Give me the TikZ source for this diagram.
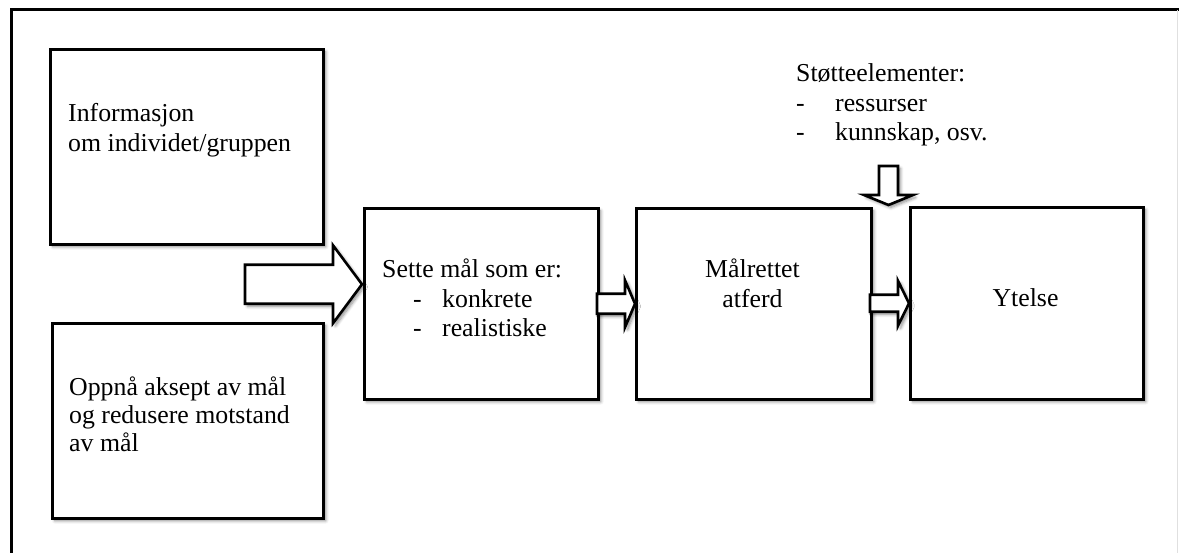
\documentclass[tikz,border=0pt]{standalone}
\usepackage{fontspec}
\setmainfont{Liberation Serif}
\usetikzlibrary{shadows.blur,calc}

% horizontal block arrow: #1 tip, #2 total length, #3 shaft half-width,
% #4 head half-width, #5 head length
\newcommand{\hblockarrow}[5]{%
  \draw[blockarrow] ($(#1)+(-#2,-#3)$) -- ($(#1)+(-#5,-#3)$) -- ($(#1)+(-#5,-#4)$)
    -- (#1) -- ($(#1)+(-#5,#4)$) -- ($(#1)+(-#5,#3)$) -- ($(#1)+(-#2,#3)$) -- cycle;}
\newcommand{\itemdash}[1]{\makebox[#1][l]{-}}

\begin{document}
\begin{tikzpicture}[x=1pt,y=-1pt,
  softshadow/.style={blur shadow={shadow xshift=2.5pt, shadow yshift=-2.5pt,
      shadow blur steps=6, shadow blur radius=3pt, shadow opacity=45}},
  frame/.style={line width=3pt, line join=miter},
  box/.style={draw, line width=2.6pt, fill=white, inner sep=0pt, softshadow},
  blockarrow/.style={draw, line width=2.6pt, fill=white, line join=miter, softshadow},
  % multi-line labels are placed by the baseline of their last line
  txt/.style={anchor=base west, inner sep=0pt, align=left,
      font=\fontsize{25.8}{29.5}\selectfont},
  ctxt/.style={anchor=base, inner sep=0pt, align=center,
      font=\fontsize{25.8}{29.5}\selectfont}]

\useasboundingbox (0,0) rectangle (1179,553);

% outer frame
\draw[frame] (11,556) -- (11,10) -- (1182,10);
\draw[black!12, line width=1.5pt] (1177.5,10) -- (1177.5,556);

% boxes
\node[box, anchor=north west, minimum width=273pt, minimum height=195pt] (info) at (49,48) {};
\node[box, anchor=north west, minimum width=271pt, minimum height=195pt] (accept) at (51,322) {};
\node[box, anchor=north west, minimum width=234pt, minimum height=191pt] (goals) at (363,207) {};
\node[box, anchor=north west, minimum width=235pt, minimum height=191pt] (behav) at (635,207) {};
\node[box, anchor=north west, minimum width=233pt, minimum height=192pt] (perf) at (909,206) {};

% block arrows
\coordinate (bigtip) at ($(goals.west)+(-1,-19.5)$);
\hblockarrow{bigtip}{117}{19.5}{39}{29}
\hblockarrow{behav.west}{38}{10}{23.5}{10}
\hblockarrow{perf.west}{39}{8.5}{22.5}{11}

% downward block arrow into the gap above the last box
\coordinate (downtip) at ($(perf.north west)+(-20.5,-1)$);
\draw[blockarrow] ($(downtip)+(-9.5,-39)$) -- ($(downtip)+(9.5,-39)$) -- ($(downtip)+(9.5,-10)$)
  -- ($(downtip)+(24.5,-10)$) -- (downtip) -- ($(downtip)+(-24.5,-10)$)
  -- ($(downtip)+(-9.5,-10)$) -- cycle;

% texts
\node[txt] (infotxt) at (68,151.5) {Informasjon\\om individet/gruppen};
\node[txt, font=\fontsize{25.8}{28.5}\selectfont] (accepttxt) at (69,452) {Oppnå aksept av mål\\og redusere motstand\\av mål};
\node[txt] (goalstxt) at (382,337) {Sette mål som er:\\\hspace*{31pt}\itemdash{29pt}konkrete\\\hspace*{31pt}\itemdash{29pt}realistiske};
\node[ctxt] (behavtxt) at (752.5,307.5) {Målrettet\\atferd};
\node[ctxt] (perftxt) at (1025.5,307) {Ytelse};
\node[txt, font=\fontsize{25.8}{29.5}\selectfont] (supporttxt) at (796,141) {Støtteelementer:\\\itemdash{39pt}ressurser\\\itemdash{39pt}kunnskap, osv.};

\end{tikzpicture}
\end{document}
